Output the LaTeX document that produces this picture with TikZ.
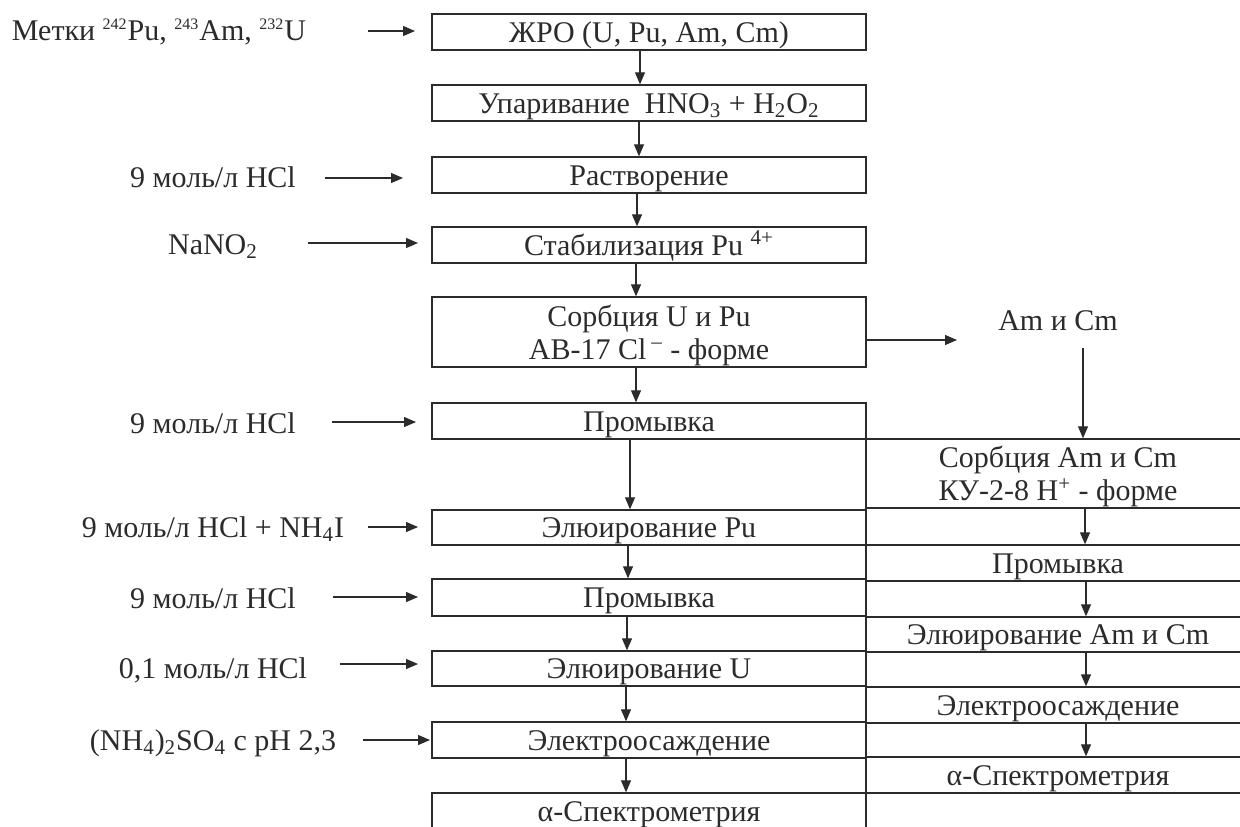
\documentclass[tikz,border=0pt]{standalone}
\usepackage{fontspec}
\usepackage{graphicx}
\setmainfont{Liberation Serif}
\usetikzlibrary{arrows.meta,calc}
\definecolor{ink}{HTML}{2B2B2B}
\newcommand{\sml}[1]{\textsuperscript{\fontsize{8}{8}\selectfont #1}}
\begin{document}
\begin{tikzpicture}[x=0.5pt,y=-0.5pt,
  every node/.style={font=\fontsize{15}{15}\selectfont, text=ink},
  one/.style={text height=10pt, text depth=0pt},
  two/.style={text depth=0pt, font=\fontsize{15}{16.5}\selectfont},
  lbox/.style={draw=ink, line width=0.7pt, minimum width=217pt, minimum height=18pt, inner sep=0pt, align=center},
  rbox/.style={draw=ink, line width=0.7pt, minimum width=192pt, minimum height=18pt, inner sep=0pt, align=center},
  arr/.style={draw=ink, line width=0.6pt, -{Triangle[length=6pt,width=5pt]}},
  lbl/.style={inner sep=0pt, text height=10pt, text depth=0pt}]
\useasboundingbox (0,0) rectangle (1240,826);
\clip (0,0) rectangle (1240,826);
\fill[white] (0,0) rectangle (1240,826);
% left column
\node[lbox, one] (b1) at (649,32) {ЖРО (U, Pu, Am, Cm)};
\node[lbox, one] (b2) at (649,103) {Упаривание\ \ HNO\textsubscript{3} + H\textsubscript{2}O\textsubscript{2}};
\node[lbox, one] (b3) at (649,175) {Растворение};
\node[lbox, one] (b4) at (649,245) {Стабилизация Pu \textsuperscript{4+}};
\node[lbox, two, minimum height=35pt] (b5) at (649,332) {Сорбция U и Pu\\АВ-17 Cl\,\textsuperscript{–} - форме};
\node[lbox, one] (b6) at (649,421) {Промывка};
\node[lbox, one, minimum height=17.5pt] (b7) at (649,527.5) {Элюирование Pu};
\node[lbox, one, minimum height=18.5pt] (b8) at (649,597.5) {Промывка};
\node[lbox, one, minimum height=17.5pt] (b9) at (649,668.5) {Элюирование U};
\node[lbox, one] (b10) at (649,740) {Электроосаждение};
\node[lbox, one] (b11) at (649,811) {α-Спектрометрия};
% right column
\node[lbl] (am) at (1058,320) {Am и Cm};
\node[rbox, two, minimum height=34.5pt] (r1) at (1058,473.5) {Сорбция Am и Cm\\КУ-2-8 H\textsuperscript{+} - форме};
\node[rbox, one] (r2) at (1058,563) {Промывка};
\node[rbox, one, minimum height=17.5pt] (r3) at (1058,634.5) {Элюирование Am и Cm};
\node[rbox, one] (r4) at (1058,705) {Электроосаждение};
\node[rbox, one] (r5) at (1058,775) {α-Спектрометрия};
\coordinate (vb) at (866,830);
\draw[ink, line width=0.7pt] (r1.north west) -- (r1.north west |- vb);
% left column arrows
\draw[arr] ([xshift=-4.5pt]b1.south) -- ([xshift=-4.5pt]b2.north);
\draw[arr] ([xshift=-5pt]b2.south) -- ([xshift=-5pt]b3.north);
\draw[arr] ([xshift=-6pt]b3.south) -- ([xshift=-6pt]b4.north);
\draw[arr] ([xshift=-6.5pt]b4.south) -- ([xshift=-6.5pt]b5.north);
\draw[arr] ([xshift=-6.5pt]b5.south) -- ([xshift=-6.5pt]b6.north);
\draw[arr] ([xshift=-9.5pt]b6.south) -- ([xshift=-9.5pt]b7.north);
\draw[arr] ([xshift=-10.5pt]b7.south) -- ([xshift=-10.5pt]b8.north);
\draw[arr] ([xshift=-11pt]b8.south) -- ([xshift=-11pt]b9.north);
\draw[arr] ([xshift=-11.5pt]b9.south) -- ([xshift=-11.5pt]b10.north);
\draw[arr] ([xshift=-11.5pt]b10.south) -- ([xshift=-11.5pt]b11.north);
% right column arrows
\coordinate (am1) at (957,340);
\draw[arr] (b5.east |- am1) -- (am1);
\coordinate (am2) at (1083,348);
\draw[arr] (am2) -- (am2 |- r1.north);
\draw[arr] ([xshift=13.5pt]r1.south) -- ([xshift=13.5pt]r2.north);
\draw[arr] ([xshift=14pt]r2.south) -- ([xshift=14pt]r3.north);
\draw[arr] ([xshift=14pt]r3.south) -- ([xshift=14pt]r4.north);
\draw[arr] ([xshift=14pt]r4.south) -- ([xshift=14pt]r5.north);
% input labels
\node[lbl] (t1) at (159,30) {Метки \sml{242}Pu, \sml{243}Am, \sml{232}U};
\node[lbl] (t2) at (213,177) {9 моль/л HCl};
\node[lbl] (t3) at (213,244) {NaNO\textsubscript{2}};
\node[lbl] (t4) at (213,423) {9 моль/л HCl};
\node[lbl] (t5) at (213,527) {9 моль/л HCl + NH\textsubscript{4}I};
\node[lbl] (t6) at (213,598) {9 моль/л HCl};
\node[lbl] (t7) at (213,668) {0,1 моль/л HCl};
\node[lbl] (t8) at (213,740) {(NH\textsubscript{4})\textsubscript{2}SO\textsubscript{4} с pH 2,3};
\coordinate (s1) at (368,31);  \coordinate (e1) at (415,31);
\coordinate (s2) at (325,178); \coordinate (e2) at (403,178);
\coordinate (s3) at (308,243); \coordinate (e3) at (418,243);
\coordinate (s4) at (332,422); \coordinate (e4) at (416,422);
\coordinate (s5) at (368,527); \coordinate (e5) at (418,527);
\coordinate (s6) at (333,597); \coordinate (e6) at (418,597);
\coordinate (s7) at (340,664); \coordinate (e7) at (418,664);
\coordinate (s8) at (363,740); \coordinate (e8) at (430,740);
\foreach \i in {1,...,8} \draw[arr] (s\i) -- (e\i);
\end{tikzpicture}
\end{document}
